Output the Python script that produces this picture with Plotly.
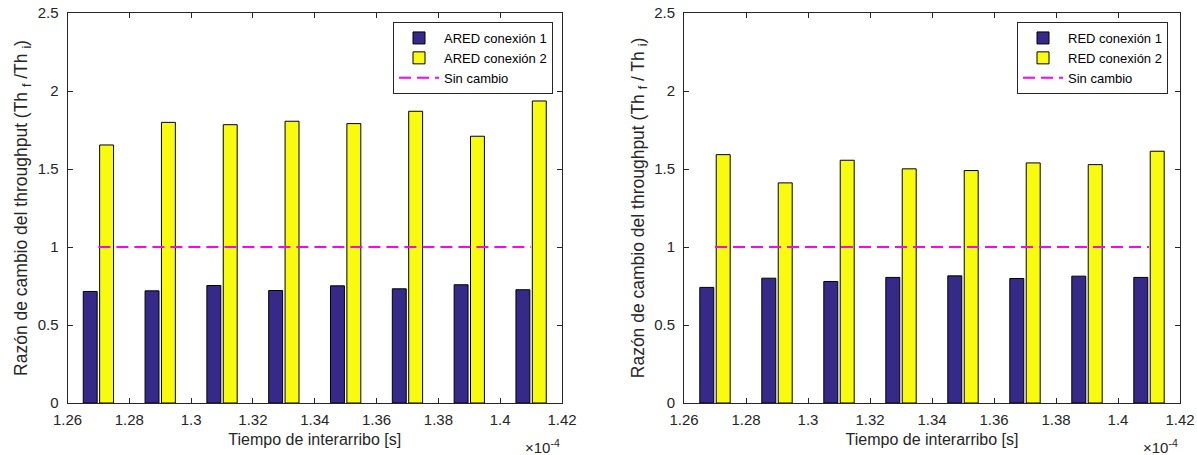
import plotly.graph_objects as go

# Data (x in units of 1e-4 s)
interarribo = [1.27, 1.29, 1.31, 1.33, 1.35, 1.37, 1.39, 1.41]
ared_con1 = [0.715, 0.719, 0.753, 0.721, 0.751, 0.732, 0.758, 0.726]
ared_con2 = [1.654, 1.799, 1.784, 1.806, 1.791, 1.870, 1.710, 1.936]
red_con1 = [0.741, 0.800, 0.779, 0.805, 0.815, 0.798, 0.813, 0.805]
red_con2 = [1.592, 1.411, 1.556, 1.501, 1.490, 1.539, 1.528, 1.614]
sin_cambio = [1.0] * len(interarribo)

W, H = 1197, 455
BLUE = "#352A87"
YELLOW = "#F9FB0E"
MAGENTA = "#FF00FF"
TXT = "#262626"
FONT = "Liberation Sans"

fig = go.Figure()

def add_panel(xa, ya, legend, y1, y2, n1, n2):
    fig.add_trace(go.Bar(x=interarribo, y=y1, name=n1, marker=dict(color=BLUE, line=dict(color="#000000", width=1)),
                         xaxis=xa, yaxis=ya, legend=legend, offsetgroup="a" + xa))
    fig.add_trace(go.Bar(x=interarribo, y=y2, name=n2, marker=dict(color=YELLOW, line=dict(color="#000000", width=1)),
                         xaxis=xa, yaxis=ya, legend=legend, offsetgroup="b" + xa))
    fig.add_trace(go.Scatter(x=interarribo, y=sin_cambio, name="Sin cambio", mode="lines",
                             line=dict(color=MAGENTA, width=2, dash="12px,6px"),
                             xaxis=xa, yaxis=ya, legend=legend))

add_panel("x", "y", "legend", ared_con1, ared_con2, "ARED conexión 1", "ARED conexión 2")
add_panel("x2", "y2", "legend2", red_con1, red_con2, "RED conexión 1", "RED conexión 2")

ydom = [1 - 403 / H, 1 - 13 / H]
xdom1 = [67.5 / W, 562 / W]
xdom2 = [684 / W, 1180 / W]

axis_common = dict(showline=True, linecolor=TXT, linewidth=1, mirror="ticks", ticks="inside",
                   ticklen=5, tickcolor=TXT, showgrid=False, zeroline=False, automargin=False,
                   tickfont=dict(family=FONT, size=15, color=TXT))

xticks = [1.26, 1.28, 1.30, 1.32, 1.34, 1.36, 1.38, 1.40, 1.42]
yticks = [0, 0.5, 1, 1.5, 2, 2.5]

xa = dict(axis_common, range=[1.26, 1.42], tickvals=xticks, domain=xdom1, ticklabelstandoff=3,
          title=dict(text="Tiempo de interarribo [s]", font=dict(family=FONT, size=16, color=TXT), standoff=6))
ya = dict(axis_common, range=[0, 2.5], tickvals=yticks, domain=ydom, ticklabelstandoff=5,
          title=dict(text="Razón de cambio del throughput (Th <sub>f</sub> /Th <sub>i</sub>)",
                     font=dict(family=FONT, size=17.5, color=TXT), standoff=5))

legend_common = dict(xanchor="right", y=1 - 22 / H, yanchor="top",
                     bgcolor="white", bordercolor=TXT, borderwidth=1,
                     font=dict(family=FONT, size=13, color="#000000"), itemwidth=40, tracegroupgap=0)

fig.update_layout(
    width=W, height=H,
    margin=dict(l=0, r=0, t=0, b=0, autoexpand=False),
    paper_bgcolor="white", plot_bgcolor="white",
    barmode="group", bargap=0.47, bargroupgap=0.15,
    font=dict(family=FONT, color=TXT),
    xaxis=xa,
    yaxis=ya,
    xaxis2=dict(xa, domain=xdom2, anchor="y2"),
    yaxis2=dict(ya, domain=ydom, anchor="x2",
                title=dict(text="Razón de cambio del throughput (Th <sub>f</sub> / Th <sub>i</sub>)",
                           font=dict(family=FONT, size=17.5, color=TXT), standoff=5)),
    legend=dict(legend_common, x=553 / W),
    legend2=dict(legend_common, x=1168 / W),
    showlegend=True,
)

for xr in [562, 1180]:
    fig.add_annotation(text="×10<sup>-4</sup>", x=xr / W, y=1 - 446 / H, xref="paper", yref="paper",
                       xanchor="right", yanchor="middle", showarrow=False,
                       font=dict(family=FONT, size=15, color=TXT))

fig.write_html("out.html")
